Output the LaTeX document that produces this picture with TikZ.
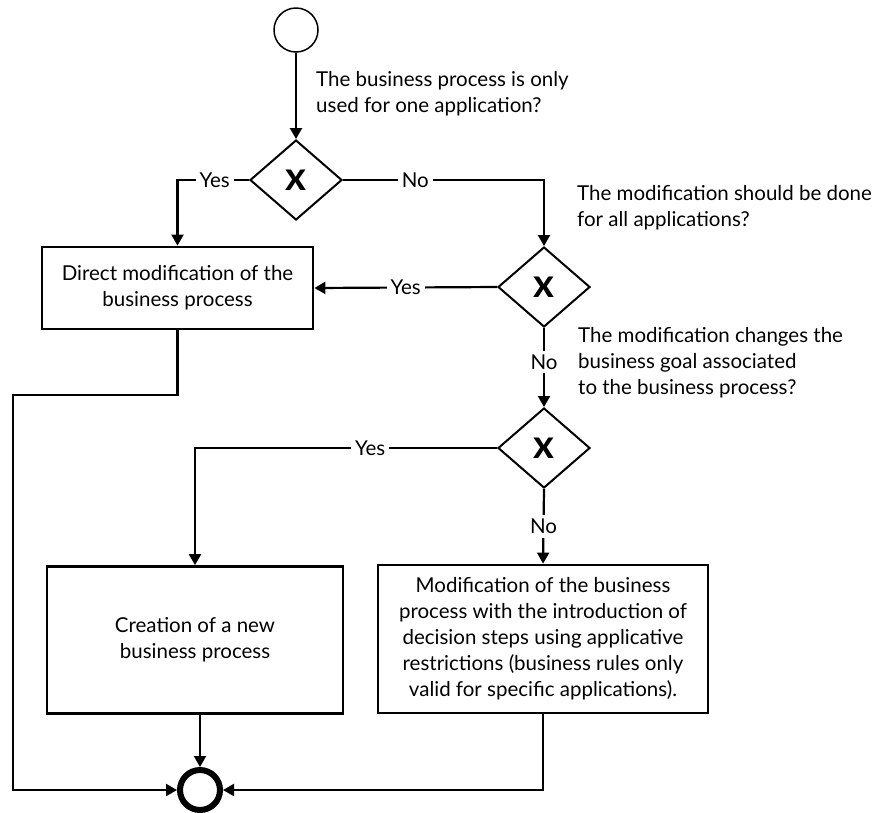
\documentclass[tikz,border=0pt]{standalone}
\usepackage{fontspec}
\setmainfont{Lato}
\usetikzlibrary{arrows.meta,shapes.geometric}
\tikzset{
>={Triangle[length=11pt,width=12pt]},
event node/.style={circle,draw,inner sep=0pt},
gate node/.style={diamond,draw,line width=2pt,minimum width=92pt,minimum height=80pt,inner sep=0pt,font=\fontsize{40}{40}\selectfont\bfseries},
task node/.style={rectangle,draw,line width=2.8pt,align=center,inner sep=0pt},
question/.style={align=left,anchor=west,inner sep=0pt},
flow/.style={->,line width=2.2pt},
answer/.style={fill=white,inner sep=4pt}}

\begin{document}
\begin{tikzpicture}[x=1pt,y=-1pt,font=\fontsize{20.5}{26}\selectfont]
\useasboundingbox (0,0) rectangle (880,812);

\node[event node,line width=1.5pt,minimum size=44pt] (start) at (296,30) {};
\node[event node,line width=6pt,minimum size=40pt] (end) at (200,790) {};

\node[gate node] (g1) at (296,180) {x};
\node[gate node] (g2) at (544,287) {x};
\node[gate node] (g3) at (544,448) {x};

\node[task node,minimum width=271pt,minimum height=82pt] (direct) at (177.5,288) {Direct modification of the\\business process};
\node[task node,minimum width=296pt,minimum height=147pt] (creation) at (195,640) {Creation of a new\\business process};
\node[task node,minimum width=330pt,minimum height=148pt] (restrict) at (543,639) {Modification of the business\\process with the introduction of\\decision steps using applicative\\restrictions (business rules only\\valid for specific applications).};

\node[question] (q1) at (316,94) {The business process is only\\used for one application?};
\node[question] (q2) at (577,208) {The modification should be done\\for all applications?};
\node[question] (q3) at (578,363) {The modification changes the\\business goal associated\\to the business process?};

\coordinate (bend) at (13,395);

\draw[flow] (start) -- (g1);
\draw[flow] (g1.west) -| node[answer,pos=0.24] {Yes} (direct.north);
\draw[flow] (g1.east) -| node[answer,pos=0.18] {No} (g2.north);
\draw[flow] (g2.west) -- node[answer] {Yes} (direct.east);
\draw[flow] (g2.south) -- node[answer,pos=0.43] {No} (g3.north);
\draw[flow] (g3.west) -| node[answer,pos=0.21] {Yes} (creation.north);
\draw[flow] (g3.south) -- node[answer] {No} (restrict.north);
\draw[flow] (direct.south) |- (bend) |- (end.west);
\draw[flow] (creation.south -| end.north) -- (end.north);
\draw[flow] (restrict.south) |- (end.east);

\end{tikzpicture}
\end{document}
